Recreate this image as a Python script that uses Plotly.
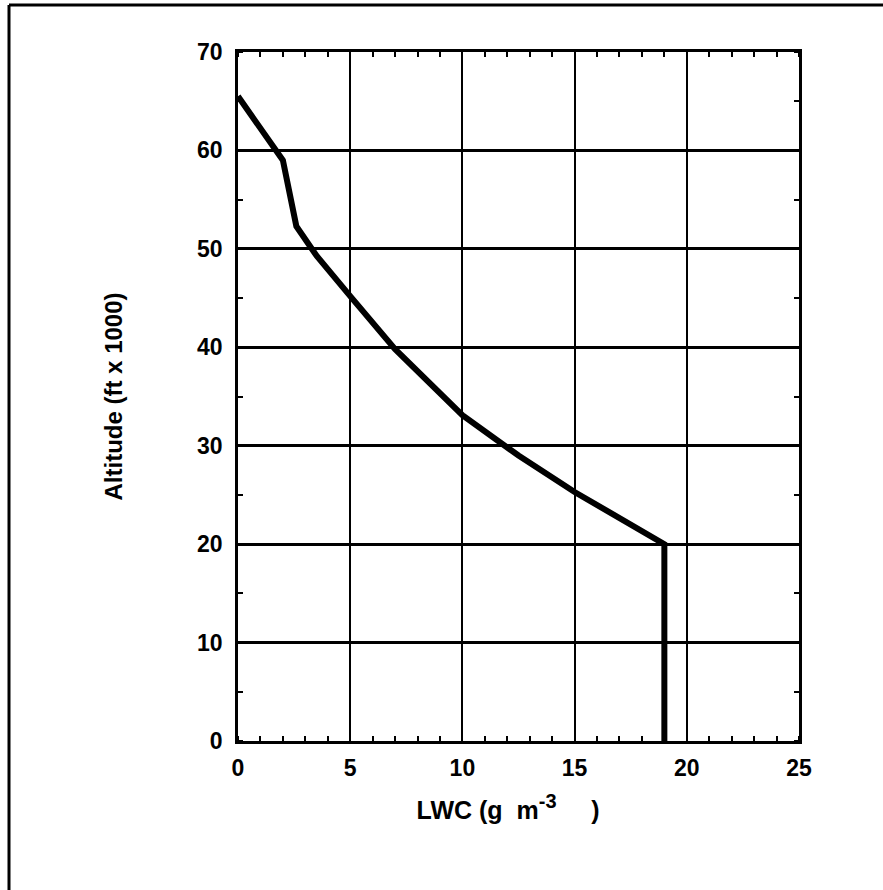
import plotly.graph_objects as go

# Data
lwc = [0.0, 2.0, 2.6, 3.5, 5.0, 7.0, 10.0, 12.5, 15.0, 19.0, 19.0]
altitude = [65.5, 59.0, 52.3, 49.3, 45.2, 39.8, 33.1, 29.0, 25.3, 20.0, 0.0]

x_ticks = [0, 5, 10, 15, 20, 25]
y_ticks = [0, 10, 20, 30, 40, 50, 60, 70]

FONT = "Liberation Sans, Arial, sans-serif"
NB = "&nbsp;"

fig = go.Figure()
fig.add_trace(go.Scatter(
    x=lwc, y=altitude, mode="lines",
    line=dict(color="black", width=6),
    showlegend=False, hoverinfo="skip",
))

axis_common = dict(
    showline=True, linecolor="black", mirror="ticks",
    ticks="", showgrid=True, gridcolor="black", zeroline=False,
    tickfont=dict(family=FONT, size=23, color="black", weight="bold"),
)

fig.update_xaxes(
    **axis_common,
    range=[0, 25], tickvals=x_ticks, ticktext=[str(v) for v in x_ticks],
    linewidth=3, gridwidth=2,
    minor=dict(dtick=1, ticks="inside", ticklen=5, tickwidth=2, tickcolor="black", showgrid=False),
    ticklabelstandoff=4,
    title=dict(
        text="LWC (g" + NB * 2 + "m<sup><span style='font-size:20px'>-3</span></sup>" + NB * 5 + ")" + NB * 3,
        standoff=22,
        font=dict(family=FONT, size=25, color="black", weight="bold"),
    ),
)
fig.update_yaxes(
    **axis_common,
    range=[0, 70], tickvals=y_ticks, ticktext=[str(v) for v in y_ticks],
    linewidth=2.5, gridwidth=3,
    minor=dict(dtick=5, ticks="inside", ticklen=5, tickwidth=2, tickcolor="black", showgrid=False),
    ticklabelstandoff=8,
    title=dict(text="Altitude (ft x 1000)", standoff=68,
               font=dict(family=FONT, size=24, color="black", weight="bold")),
)

# Outer frame (left and top edges, as in the scanned figure)
fig.add_shape(type="line", xref="paper", yref="paper",
              x0=(9 - 238) / 561, x1=(9 - 238) / 561, y0=(741 - 5) / 689, y1=(741 - 895) / 689,
              line=dict(color="black", width=3))
fig.add_shape(type="line", xref="paper", yref="paper",
              x0=(9 - 238) / 561, x1=(890 - 238) / 561, y0=(741 - 5) / 689, y1=(741 - 5) / 689,
              line=dict(color="black", width=3))

fig.update_layout(
    width=883, height=890,
    margin=dict(l=238, r=84, t=52, b=149),
    paper_bgcolor="white", plot_bgcolor="white",
    font=dict(family=FONT, color="black"),
)

fig.write_html("out.html",
               config={"displayModeBar": False},
               post_script="document.body.style.margin='0';document.body.style.overflow='hidden';")
